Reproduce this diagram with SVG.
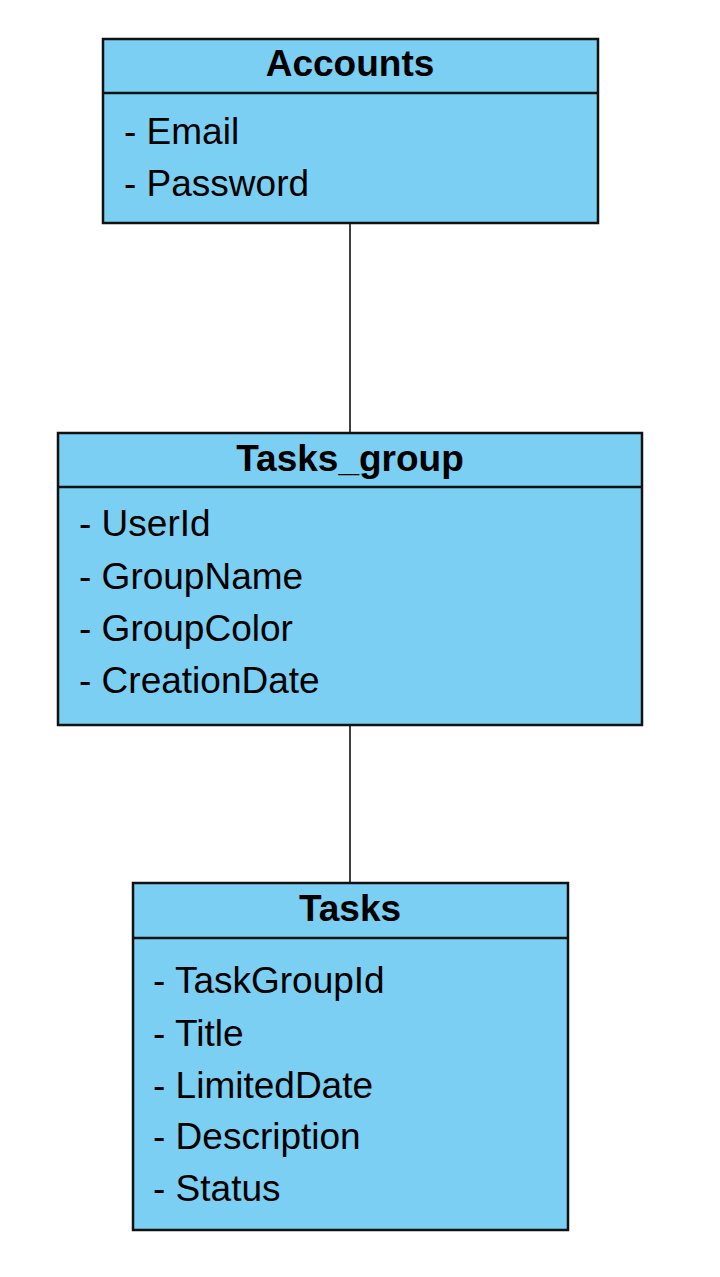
<svg xmlns="http://www.w3.org/2000/svg" width="720" height="1277" viewBox="0 0 720 1277">
<style>
.box{fill:#7acff3;stroke:#111;stroke-width:2.5}
.div{stroke:#111;stroke-width:2.5}
.title{font-family:"Liberation Sans",Arial,sans-serif;font-size:37px;font-weight:bold;fill:#000;text-anchor:middle}
.attr{font-family:"Liberation Sans",Arial,sans-serif;font-size:37px;fill:#000}
.conn{stroke:#000;stroke-width:1.5;fill:none}
</style>
<rect width="720" height="1277" fill="#fff"/>
<g id="connectors">
<line class="conn" x1="350" y1="223" x2="350" y2="433"/>
<line class="conn" x1="350" y1="725" x2="350" y2="883"/>
</g>
<g id="accounts">
<rect class="box" x="103" y="39" width="495" height="184"/>
<line class="div" x1="103" y1="93" x2="598" y2="93"/>
<text class="title" x="350" y="76">Accounts</text>
<text class="attr" x="124" y="144">- Email</text>
<text class="attr" x="124" y="196">- Password</text>
</g>
<g id="tasks_group">
<rect class="box" x="58" y="433" width="584" height="292"/>
<line class="div" x1="58" y1="487" x2="642" y2="487"/>
<text class="title" x="350" y="471">Tasks_group</text>
<text class="attr" x="79" y="536">- UserId</text>
<text class="attr" x="79" y="589">- GroupName</text>
<text class="attr" x="79" y="641">- GroupColor</text>
<text class="attr" x="79" y="693">- CreationDate</text>
</g>
<g id="tasks">
<rect class="box" x="133" y="883" width="435" height="347"/>
<line class="div" x1="133" y1="938" x2="568" y2="938"/>
<text class="title" x="350" y="921">Tasks</text>
<text class="attr" x="153" y="993">- TaskGroupId</text>
<text class="attr" x="153" y="1046">- Title</text>
<text class="attr" x="153" y="1098">- LimitedDate</text>
<text class="attr" x="153" y="1149">- Description</text>
<text class="attr" x="153" y="1201">- Status</text>
</g>
</svg>
